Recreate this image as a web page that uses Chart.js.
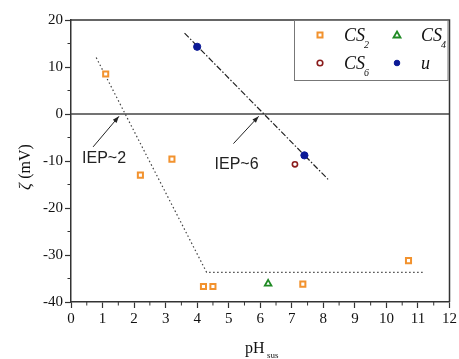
<!DOCTYPE html>
<html>
<head>
<meta charset="utf-8">
<script src="https://cdn.jsdelivr.net/npm/chart.js@4"></script>
<style>
  html, body { margin: 0; padding: 0; background: #fff; }
  #wrap { width: 459px; height: 359px; }
</style>
</head>
<body>
<div id="wrap"><canvas id="c" width="459" height="359"></canvas></div>
<script>
// data
const cs2X = [1.1, 2.2, 3.2, 4.2, 4.5, 7.35, 10.7];
const cs2Y = [8.5, -13.0, -9.6, -36.7, -36.7, -36.2, -31.2];
const cs4X = [6.25];
const cs4Y = [-36.1];
const cs6X = [7.1];
const cs6Y = [-10.7];
const uX = [4.0, 7.4];
const uY = [14.3, -8.8];

// guide lines
const dotX = [0.8, 4.3, 11.2];
const dotY = [12.0, -33.7, -33.7];
const dashX = [3.6, 8.15];
const dashY = [17.2, -13.9];

// IEP labels: text anchor and arrow tail -> head
const iepText = ['IEP~2', 'IEP~6'];
const iepTextX = [0.35, 4.55];
const iepTextY = [-10.5, -11.8];
const arrowFromX = [0.7, 5.15];
const arrowFromY = [-7.0, -6.3];
const arrowToX = [1.52, 5.95];
const arrowToY = [-0.5, -0.5];

const xTicks = [0, 1, 2, 3, 4, 5, 6, 7, 8, 9, 10, 11, 12];
const yTicks = [-40, -30, -20, -10, 0, 10, 20];

const pts = (xs, ys) => xs.map((x, i) => ({ x: x, y: ys[i] }));

const AX = '#333';
const serif = '"Liberation Serif", "DejaVu Serif", serif';
const sans = '"Liberation Sans", Arial, sans-serif';

const decor = {
    id: 'decor',
    beforeDatasetsDraw(chart) {
        const { ctx, chartArea: a, scales: { y } } = chart;
        ctx.save();
        // zero line
        ctx.strokeStyle = '#444';
        ctx.lineWidth = 1.5;
        ctx.beginPath();
        ctx.moveTo(a.left, y.getPixelForValue(0));
        ctx.lineTo(a.right, y.getPixelForValue(0));
        ctx.stroke();
        ctx.restore();
    },
    afterDraw(chart) {
        const { ctx, chartArea: a, scales: { x, y } } = chart;
        ctx.save();
        // frame top/right
        ctx.strokeStyle = AX;
        ctx.lineWidth = 1.5;
        ctx.beginPath();
        ctx.moveTo(a.left, a.top);
        ctx.lineTo(a.right, a.top);
        ctx.lineTo(a.right, a.bottom);
        ctx.stroke();
        // minor ticks
        ctx.lineWidth = 1;
        ctx.beginPath();
        for (let v = 0.5; v < 12; v += 1) {
            const px = x.getPixelForValue(v);
            ctx.moveTo(px, a.bottom);
            ctx.lineTo(px, a.bottom + 3.5);
        }
        for (let v = -35; v < 20; v += 10) {
            const py = y.getPixelForValue(v);
            ctx.moveTo(a.left, py);
            ctx.lineTo(a.left - 3.5, py);
        }
        ctx.stroke();

        // IEP arrows + text
        ctx.strokeStyle = '#222';
        ctx.fillStyle = '#222';
        ctx.lineWidth = 1;
        iepText.forEach((t, i) => {
            const x0 = x.getPixelForValue(arrowFromX[i]), y0 = y.getPixelForValue(arrowFromY[i]);
            const x1 = x.getPixelForValue(arrowToX[i]), y1 = y.getPixelForValue(arrowToY[i]);
            ctx.beginPath();
            ctx.moveTo(x0, y0);
            ctx.lineTo(x1, y1);
            ctx.stroke();
            const ang = Math.atan2(y1 - y0, x1 - x0);
            ctx.beginPath();
            ctx.moveTo(x1, y1);
            ctx.lineTo(x1 - 7 * Math.cos(ang - 0.35), y1 - 7 * Math.sin(ang - 0.35));
            ctx.lineTo(x1 - 7 * Math.cos(ang + 0.35), y1 - 7 * Math.sin(ang + 0.35));
            ctx.closePath();
            ctx.fill();
            ctx.font = '16px ' + sans;
            ctx.textAlign = 'left';
            ctx.textBaseline = 'alphabetic';
            ctx.fillText(t, x.getPixelForValue(iepTextX[i]), y.getPixelForValue(iepTextY[i]));
        });

        // axis titles
        ctx.fillStyle = '#111';
        ctx.font = '16px ' + serif;
        ctx.textAlign = 'left';
        ctx.fillText('pH', 245, 353);
        ctx.font = '9px ' + serif;
        ctx.fillText('sus', 267, 358);
        ctx.save();
        ctx.translate(30, 190);
        ctx.rotate(-Math.PI / 2);
        ctx.textAlign = 'left';
        ctx.font = 'italic 17px ' + serif;
        ctx.fillText('\u03b6', 0, 0);
        const zw = ctx.measureText('\u03b6 ').width;
        ctx.font = '16px ' + serif;
        ctx.fillText('(mV)', zw, 0);
        ctx.restore();

        // legend box
        const lx = 294, ly = a.top, lw = a.right - 294 - 2, lh = 60;
        ctx.fillStyle = '#fff';
        ctx.fillRect(lx, ly, lw, lh);
        ctx.strokeStyle = '#777';
        ctx.lineWidth = 1;
        ctx.strokeRect(lx + 0.5, ly + 0.5, lw, lh);
        const items = [
            { ds: 0, mx: 320, my: 35, lab: 'CS', sub: '2' },
            { ds: 1, mx: 397, my: 35, lab: 'CS', sub: '4' },
            { ds: 2, mx: 320, my: 63, lab: 'CS', sub: '6' },
            { ds: 3, mx: 397, my: 63, lab: 'u', sub: '' }
        ];
        items.forEach(it => {
            const d = chart.data.datasets[it.ds];
            ctx.save();
            ctx.strokeStyle = d.borderColor;
            ctx.fillStyle = d.backgroundColor;
            ctx.lineWidth = d.borderWidth;
            ctx.beginPath();
            if (d.pointStyle === 'rect') {
                ctx.rect(it.mx - 2.5, it.my - 2.5, 5, 5);
            } else if (d.pointStyle === 'triangle') {
                ctx.moveTo(it.mx, it.my - 3.5);
                ctx.lineTo(it.mx + 3.5, it.my + 2.5);
                ctx.lineTo(it.mx - 3.5, it.my + 2.5);
                ctx.closePath();
            } else {
                ctx.arc(it.mx, it.my, 2.8, 0, Math.PI * 2);
            }
            ctx.fill();
            ctx.stroke();
            ctx.restore();
            ctx.fillStyle = '#111';
            ctx.font = 'italic 18px ' + serif;
            ctx.textAlign = 'left';
            ctx.fillText(it.lab, it.mx + 24, it.my + 6);
            if (it.sub) {
                const w = ctx.measureText(it.lab).width;
                ctx.font = 'italic 10px ' + serif;
                ctx.fillText(it.sub, it.mx + 23 + w, it.my + 13);
            }
        });
        ctx.restore();
    }
};

new Chart(document.getElementById('c'), {
    type: 'scatter',
    data: {
        datasets: [
            { label: 'CS2', data: pts(cs2X, cs2Y), pointStyle: 'rect', pointRadius: 3.6, borderColor: '#f2922e', backgroundColor: '#fff', borderWidth: 2 },
            { label: 'CS4', data: pts(cs4X, cs4Y), pointStyle: 'triangle', pointRadius: 3.8, borderColor: '#1f8a24', backgroundColor: '#fff', borderWidth: 1.8 },
            { label: 'CS6', data: pts(cs6X, cs6Y), pointStyle: 'circle', pointRadius: 2.6, borderColor: '#8a1c1c', backgroundColor: '#fff', borderWidth: 1.6 },
            { label: 'u', data: pts(uX, uY), pointStyle: 'circle', pointRadius: 3.6, borderColor: '#0c1a96', backgroundColor: '#0c1a96', borderWidth: 1 },
            { label: 'dot', data: pts(dotX, dotY), showLine: true, pointRadius: 0, borderColor: '#444', borderWidth: 1.2, borderDash: [1.5, 2.5], order: 5 },
            { label: 'dash', data: pts(dashX, dashY), showLine: true, pointRadius: 0, borderColor: '#222', borderWidth: 1.2, borderDash: [6, 2, 1.5, 2], order: 5 }
        ]
    },
    options: {
        responsive: false,
        animation: false,
        layout: { padding: { top: 20, right: 6, left: 0, bottom: 0 } },
        plugins: { legend: { display: false }, tooltip: { enabled: false } },
        scales: {
            x: {
                type: 'linear', min: 0, max: 12,
                afterBuildTicks: s => { s.ticks = xTicks.map(v => ({ value: v })); },
                afterFit: s => { s.height = 57; },
                border: { color: AX, width: 1.5 },
                grid: { drawOnChartArea: false, drawTicks: true, tickLength: 6, color: AX, tickWidth: 1.2 },
                ticks: { color: '#111', font: { family: serif, size: 15 }, padding: 2, maxRotation: 0 }
            },
            y: {
                type: 'linear', min: -40, max: 20,
                afterBuildTicks: s => { s.ticks = yTicks.map(v => ({ value: v })); },
                afterFit: s => { s.width = 71; },
                border: { color: AX, width: 1.5 },
                grid: { drawOnChartArea: false, drawTicks: true, tickLength: 6, color: AX, tickWidth: 1.2 },
                ticks: { color: '#111', font: { family: serif, size: 15 }, padding: 2 }
            }
        }
    },
    plugins: [decor]
});
</script>
</body>
</html>
